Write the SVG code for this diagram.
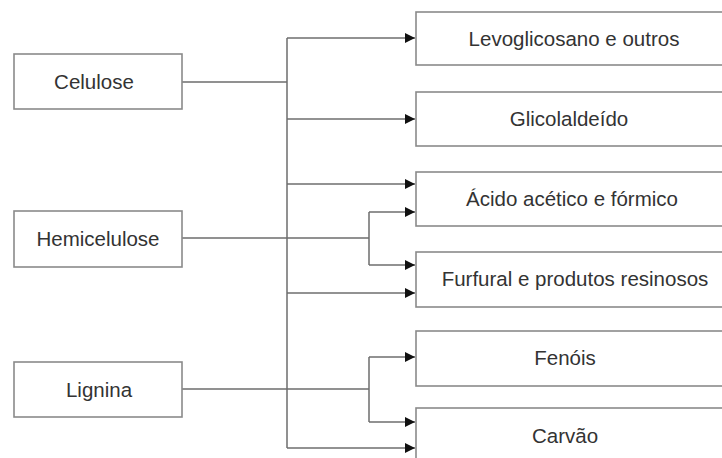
<svg xmlns="http://www.w3.org/2000/svg" width="722" height="458" viewBox="0 0 722 458">
<defs>
<marker id="arr" viewBox="0 0 10 10" refX="10" refY="5" markerWidth="10" markerHeight="10" markerUnits="userSpaceOnUse" orient="auto">
<path d="M0,0 L10,5 L0,10 Z" fill="#111"/>
</marker>
<style>
.box{fill:#fff;stroke:#8a8a8a;stroke-width:1.6}
.t{font-family:"Liberation Sans",Arial,sans-serif;font-size:20.5px;fill:#333;text-anchor:middle}
.c{fill:none;stroke:#6e6e6e;stroke-width:1.5}
.a{marker-end:url(#arr)}
</style>
</defs>
<rect width="722" height="458" fill="#fff"/>
<g id="connectors">
<path class="c" d="M182,82 H287 M287,38 V448"/>
<path class="c a" d="M287,38 H415"/>
<path class="c a" d="M287,119 H415"/>
<path class="c a" d="M287,184 H415"/>
<path class="c a" d="M287,293 H415"/>
<path class="c a" d="M287,448 H415"/>
<path class="c" d="M182,238 H369 M369,212 V265"/>
<path class="c a" d="M369,212 H415"/>
<path class="c a" d="M369,265 H415"/>
<path class="c" d="M182,389 H369 M369,357 V422"/>
<path class="c a" d="M369,357 H415"/>
<path class="c a" d="M369,422 H415"/>
</g>
<g id="celulose"><rect class="box" x="14" y="54" width="168" height="55"/><text class="t" x="94" y="89">Celulose</text></g>
<g id="hemicelulose"><rect class="box" x="14" y="211" width="168" height="56"/><text class="t" x="98" y="246">Hemicelulose</text></g>
<g id="lignina"><rect class="box" x="14" y="362" width="168" height="55"/><text class="t" x="99" y="397">Lignina</text></g>
<g id="levoglicosano"><rect class="box" x="416" y="12" width="320" height="53"/><text class="t" x="574" y="46">Levoglicosano e outros</text></g>
<g id="glicolaldeido"><rect class="box" x="416" y="92" width="320" height="54"/><text class="t" x="569" y="126">Glicolaldeído</text></g>
<g id="acido"><rect class="box" x="416" y="172" width="320" height="54"/><text class="t" x="572" y="206">Ácido acético e fórmico</text></g>
<g id="furfural"><rect class="box" x="416" y="252" width="320" height="55"/><text class="t" x="575" y="286">Furfural e produtos resinosos</text></g>
<g id="fenois"><rect class="box" x="416" y="331" width="320" height="55"/><text class="t" x="565" y="365">Fenóis</text></g>
<g id="carvao"><rect class="box" x="416" y="408" width="320" height="60"/><text class="t" x="565" y="443">Carvão</text></g>
</svg>
